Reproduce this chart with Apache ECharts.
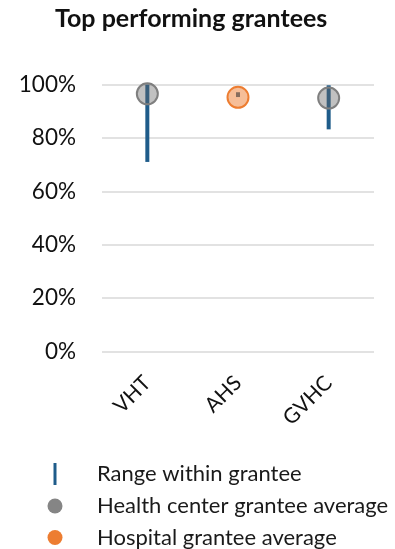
<!DOCTYPE html>
<html>
<head>
<meta charset="utf-8">
<script src="https://cdn.jsdelivr.net/npm/echarts@6/dist/echarts.min.js"></script>
<style>
  html, body { margin: 0; padding: 0; background: #fff; }
  #chart { width: 395px; height: 549px; }
</style>
</head>
<body>
<div id="chart"></div>
<script>
// Grantees shown on the category axis
const categories = ['VHT', 'AHS', 'GVHC'];
// Lowest and highest value within each grantee (percent)
const rangeLow = [71.0, 95.3, 83.2];
const rangeHigh = [100.0, 97.1, 99.7];
// Grantee averages (percent); null where the grantee is of the other kind
const healthCenterAvg = [96.5, null, 94.9];
const hospitalAvg = [null, 95.2, null];
// Value axis ticks
const yTicks = [0, 20, 40, 60, 80, 100];

const FONT = 'Lato, "Open Sans", sans-serif';
const RANGE_NAME = 'Range within grantee';
const HC_NAME = 'Health center grantee average';
const HOSP_NAME = 'Hospital grantee average';

const chart = echarts.init(document.getElementById('chart'), null, { renderer: 'canvas' });

const rangeData = categories.map((c, i) => [i, rangeLow[i], rangeHigh[i]]);

// One legend block per row so each icon can keep its own size
function legendBox(name, centerY, w, h, icon, style) {
  const iconCenterX = 55;
  const textStartX = 97;
  const left = iconCenterX - w / 2;
  return {
    data: [{ name: name, icon: icon, itemStyle: style }],
    orient: 'vertical',
    left: left,
    top: centerY - 12,
    padding: 0,
    itemWidth: w,
    itemHeight: h,
    selectedMode: false,
    textStyle: {
      fontFamily: FONT,
      fontSize: 22,
      color: '#1a1a1a',
      lineHeight: 24,
      padding: [0, 0, 0, textStartX - (left + w + 5)]
    }
  };
}

chart.setOption({
  animation: false,
  backgroundColor: '#ffffff',
  title: {
    text: 'Top performing grantees',
    left: 55,
    top: 6,
    padding: 0,
    textStyle: { fontFamily: FONT, fontWeight: 'bold', fontSize: 25, color: '#111' }
  },
  legend: [
    legendBox(RANGE_NAME, 474, 3, 22, 'path://M0,0h3v22h-3z', { color: '#1f5c8a', borderWidth: 0 }),
    legendBox(HC_NAME, 506, 15, 15, 'circle', { color: '#858585', borderWidth: 0 }),
    legendBox(HOSP_NAME, 537.5, 15, 15, 'circle', { color: '#ed7d31', borderWidth: 0 })
  ],
  grid: { left: 102, right: 21, top: 84.5, bottom: 197.5, containLabel: false },
  xAxis: {
    type: 'category',
    data: categories,
    axisLine: { show: false },
    axisTick: { show: false },
    axisLabel: {
      rotate: 45,
      margin: 28,
      fontFamily: FONT,
      fontSize: 21,
      color: '#111'
    }
  },
  yAxis: {
    type: 'value',
    min: yTicks[0],
    max: yTicks[yTicks.length - 1],
    interval: yTicks[1] - yTicks[0],
    axisLine: { show: false },
    axisTick: { show: false },
    axisLabel: {
      margin: 26,
      formatter: '{value}%',
      fontFamily: FONT,
      fontSize: 22.5,
      color: '#111'
    },
    splitLine: { show: true, lineStyle: { color: '#d9d9d9', width: 1.5 } }
  },
  series: [
    {
      name: RANGE_NAME,
      type: 'custom',
      z: 1,
      itemStyle: { color: '#1f5c8a' },
      data: rangeData,
      encode: { x: 0, y: [1, 2] },
      renderItem: function (params, api) {
        const x = api.value(0);
        const p1 = api.coord([x, api.value(1)]);
        const p2 = api.coord([x, api.value(2)]);
        return {
          type: 'line',
          shape: { x1: p1[0], y1: p1[1], x2: p2[0], y2: p2[1] },
          style: { stroke: '#1f5c8a', lineWidth: 4, lineCap: 'butt' }
        };
      }
    },
    {
      name: HC_NAME,
      type: 'scatter',
      z: 3,
      symbol: 'circle',
      symbolSize: 21,
      data: healthCenterAvg.map(v => (v === null ? '-' : v)),
      itemStyle: {
        color: 'rgba(100,100,100,0.4)',
        borderColor: '#7f7f7f',
        borderWidth: 2,
        opacity: 1
      }
    },
    {
      name: HOSP_NAME,
      type: 'scatter',
      z: 3,
      symbol: 'circle',
      symbolSize: 21,
      data: hospitalAvg.map(v => (v === null ? '-' : v)),
      itemStyle: {
        color: 'rgba(237,125,49,0.5)',
        borderColor: '#ed7d31',
        borderWidth: 2,
        opacity: 1
      }
    }
  ]
});
</script>
</body>
</html>
